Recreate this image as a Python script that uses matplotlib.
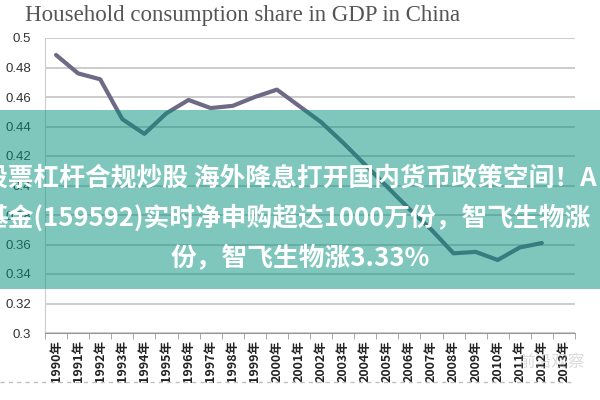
import matplotlib
matplotlib.use("Agg")
import matplotlib.pyplot as plt
from matplotlib.patches import Rectangle
from matplotlib.lines import Line2D

# data
years = [str(y) + "年" for y in range(1990, 2014)]
share = [0.4885, 0.476, 0.472, 0.445, 0.435, 0.449, 0.458, 0.4525, 0.454,
         0.460, 0.465, 0.454, 0.443, 0.429, 0.414, 0.399, 0.384, 0.370,
         0.354, 0.355, 0.3495, 0.358, 0.361]
yticks = [0.30, 0.32, 0.34, 0.36, 0.38, 0.40, 0.42, 0.44, 0.46, 0.48, 0.50]

title = "Household consumption share in GDP in China"
banner = ["股票杠杆合规炒股 海外降息打开国内货币政策空间！A",
          "基金(159592)实时净申购超达1000万份，智飞生物涨",
          "份，智飞生物涨3.33%"]

cjk = ["Noto Sans CJK SC", "DejaVu Sans"]

fig = plt.figure(figsize=(6, 4), dpi=100)
ax = fig.add_axes([45/600, 1-333/400, 530/600, 295/400])

ax.plot(range(len(share)), share, color="#6e6a85", lw=3, solid_capstyle="round",
        solid_joinstyle="round", zorder=3)

ax.set_xlim(-0.5, len(years) - 0.5)
ax.set_ylim(0.3, 0.5)
ax.set_yticks(yticks)
ax.set_yticklabels(["%g" % v for v in yticks], fontsize=9.5, color="#333333",
                   family="Liberation Sans")
ax.tick_params(axis="y", length=0, pad=10)
ax.grid(axis="y", color="#c4c4c4", lw=1.2)
ax.set_axisbelow(True)

ax.set_xticks(range(len(years)))
ax.set_xticklabels(years, rotation=90, fontsize=9, color="#222222", family=cjk,
                   fontweight="bold")
ax.set_xticks([i - 0.5 for i in range(len(years) + 1)], minor=True)
ax.tick_params(axis="x", which="major", length=0, pad=5)
ax.tick_params(axis="x", which="minor", length=4, color="#999999")

for s in ["top", "right"]:
    ax.spines[s].set_visible(False)
ax.spines["left"].set_color("#cccccc")
ax.spines["bottom"].set_color("#999999")

fig.text(25/600, 1-16/400, title, family="Liberation Serif", fontsize=16.5,
         color="#555555", va="center", ha="left")

# dashed separator at the bottom
fig.add_artist(Line2D([0, 575/600], [1-382/400, 1-382/400], color="#c0c0c0",
                      lw=1, ls=(0, (3, 3)), transform=fig.transFigure))

# faint watermark
fig.text(585/600, 1-362/400, "前沿观察", family=cjk, fontsize=12, color="#999999",
         alpha=0.35, ha="right", va="center")

# teal news banner over the chart
fig.add_artist(Rectangle((0, 1-289/400), 1, 179/400, transform=fig.transFigure,
                         facecolor=(0, 145/255, 125/255), alpha=0.5, edgecolor="none",
                         zorder=5))
fig.text(-18/600, 1-178/400, banner[0], family=cjk, fontsize=18.5, fontweight="bold",
         color="white", ha="left", va="center", zorder=6)
fig.text(-18/600, 1-218/400, banner[1], family=cjk, fontsize=18.5, fontweight="bold",
         color="white", ha="left", va="center", zorder=6)
fig.text(0.5, 1-258/400, banner[2], family=cjk, fontsize=18.5, fontweight="bold",
         color="white", ha="center", va="center", zorder=6)

fig.savefig("out.png", dpi=100)
